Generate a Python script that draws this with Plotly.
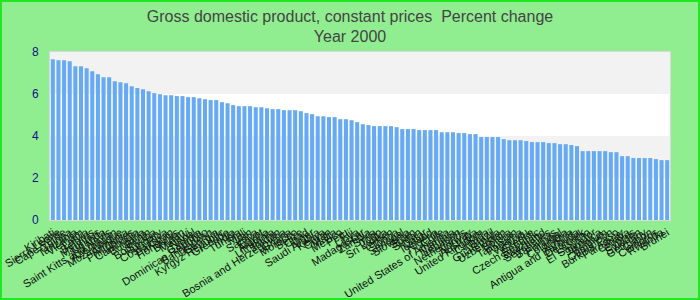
import plotly.graph_objects as go

countries = [
    "Kiribati", "Sierra Leone", "Cape Verde", "Guinea", "Tanzania", "Vietnam", "Latvia", "Belarus",
    "Mauritius", "Uganda", "Saint Kitts and Nevis", "Azerbaijan", "Mozambique", "Armenia", "Philippines",
    "Cambodia", "Bulgaria", "Benin", "Botswana", "Hungary", "Costa Rica", "Pakistan", "Honduras", "Bhutan",
    "Malawi", "Nepal", "Gambia", "Dominican Republic", "Bangladesh", "Georgia", "Kyrgyz Republic", "Grenada",
    "India", "Tunisia", "Mali", "Iran", "Samoa", "Egypt", "Algeria", "Lithuania", "Jordan",
    "Bosnia and Herzegovina", "Ghana", "Morocco", "Belize", "Chad", "Niger", "Saudi Arabia", "Kenya", "Oman",
    "Malta", "Mexico", "Peru", "Fiji", "Libya", "Madagascar", "Zambia", "Syria", "Togo", "Sri Lanka", "Yemen",
    "Tonga", "Senegal", "Slovenia", "Spain", "Sudan", "Qatar", "Iceland", "Nigeria", "Chile",
    "United States of America", "Namibia", "Lebanon", "Netherlands", "Norway", "Australia", "United Kingdom",
    "Canada", "Brazil", "Guatemala", "Uzbekistan", "Bolivia", "Tajikistan", "Panama", "Vanuatu", "Greece",
    "Czech Republic", "Swaziland", "Seychelles", "Bahamas", "Portugal", "Colombia", "Austria",
    "Antigua and Barbuda", "Denmark", "Lesotho", "El Salvador", "Jamaica", "Belgium", "Cameroon",
    "Burkina Faso", "Paraguay", "Croatia", "Cyprus", "Sweden", "Germany", "Gabon", "Comoros", "Rwanda", "Brunei",
]

values = [
    7.65, 7.61, 7.61, 7.56, 7.32, 7.32, 7.23, 7.08, 6.94, 6.80, 6.80, 6.61, 6.56, 6.51, 6.37, 6.28, 6.23, 6.13,
    6.04, 5.99, 5.94, 5.94, 5.90, 5.90, 5.85, 5.85, 5.80, 5.75, 5.71, 5.71, 5.61, 5.56, 5.47, 5.42, 5.42, 5.42,
    5.37, 5.37, 5.32, 5.28, 5.28, 5.23, 5.23, 5.23, 5.18, 5.09, 5.04, 4.94, 4.94, 4.90, 4.90, 4.80, 4.80, 4.75,
    4.66, 4.56, 4.52, 4.47, 4.47, 4.47, 4.47, 4.42, 4.33, 4.33, 4.33, 4.28, 4.28, 4.28, 4.28, 4.18, 4.18, 4.18,
    4.14, 4.14, 4.09, 4.09, 3.95, 3.95, 3.95, 3.95, 3.85, 3.80, 3.80, 3.80, 3.76, 3.71, 3.71, 3.71, 3.66, 3.66,
    3.61, 3.61, 3.57, 3.52, 3.28, 3.28, 3.28, 3.28, 3.28, 3.23, 3.23, 3.04, 3.04, 2.95, 2.95, 2.95, 2.95, 2.90,
    2.85, 2.85,
]

y_ticks = [0, 2, 4, 6, 8]
title_text = "Gross domestic product, constant prices\u00a0\u00a0Percent change<br>Year 2000"

fig = go.Figure()
fig.add_trace(go.Bar(x=countries, y=values, marker=dict(color="#65aaf2", line=dict(width=0)),
                     hoverinfo="x+y"))

# background bands
for lo, hi in [(2, 4), (6, 8)]:
    fig.add_shape(type="rect", xref="paper", yref="y", x0=0, x1=1, y0=lo, y1=hi,
                  fillcolor="#f2f2f2", line=dict(width=0), layer="below")

# outer green border (paper coords computed from margins)
L, R, T, B = 50, 30, 52, 80
pw, ph = 700 - L - R, 300 - T - B
fig.add_shape(type="rect", xref="paper", yref="paper",
              x0=(1 - L) / pw, x1=(699 - L) / pw,
              y0=(300 - B - 299) / ph, y1=(300 - B - 1) / ph,
              line=dict(color="#22e622", width=2), fillcolor="rgba(0,0,0,0)")

fig.update_layout(
    width=700, height=300,
    margin=dict(l=L, r=R, t=T, b=B, pad=0),
    paper_bgcolor="#90ee90", plot_bgcolor="#ffffff",
    bargap=0.28, showlegend=False,
    title=dict(text=title_text, x=0.5, xanchor="center", yref="container", y=1 - 21.5 / 300,
               yanchor="middle",
               font=dict(family="Liberation Sans, Arial, sans-serif", size=16, color="#444444")),
    font=dict(family="Liberation Sans, Arial, sans-serif"),
)
fig.update_xaxes(
    type="category", tickmode="array", tickvals=countries, ticktext=countries,
    tickangle=-32, tickfont=dict(size=11, color="#111111"), ticks="", ticklabelstandoff=1,
    showgrid=False, showline=True, linecolor="#d9d9d9", linewidth=1, mirror=True,
    automargin=False, fixedrange=True,
)
fig.update_yaxes(
    range=[0, 8], tickmode="array", tickvals=y_ticks, ticktext=[str(v) for v in y_ticks],
    tickfont=dict(size=12, color="#10108a"), ticks="", ticklabelstandoff=8, showgrid=False, zeroline=False,
    showline=True, linecolor="#d9d9d9", linewidth=1, mirror=True, automargin=False,
)

fig.write_html("out.html")
